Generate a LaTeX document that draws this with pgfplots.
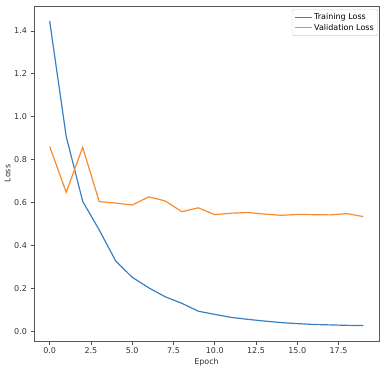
\documentclass[border=0pt]{standalone}
\usepackage{fontspec}
\setmainfont{DejaVu Sans}
\usepackage{pgfplots}
\pgfplotsset{compat=1.18}
\definecolor{tabblue}{HTML}{3A80C0}
\definecolor{taborange}{HTML}{F98B2E}

\begin{document}
\begin{tikzpicture}
\begin{axis}[
    name=ax,
    scale only axis,
    width=345pt, height=335pt,
    xmin=-0.95, xmax=19.95,
    ymin=-0.046, ymax=1.516,
    xtick={0,2.5,5,7.5,10,12.5,15,17.5},
    ytick={0,0.2,0.4,0.6,0.8,1.0,1.2,1.4},
    xticklabel style={/pgf/number format/.cd,fixed,fixed zerofill,precision=1},
    yticklabel style={/pgf/number format/.cd,fixed,fixed zerofill,precision=1},
    /pgf/number format/assume math mode=true,
    tick align=outside,
    tick pos=left,
    major tick length=3.5pt,
    every tick/.style={black!70,line width=0.6pt},
    axis line style={black!65,line width=0.8pt},
    ticklabel style={font=\fontsize{8}{9.6}\selectfont, text=black!80},
    xlabel={Epoch}, ylabel={Loss},
    label style={font=\fontsize{8}{9.6}\selectfont, text=black!80},
    xlabel style={yshift=3pt},
    ylabel style={yshift=-3pt},
    legend style={at={(0.997,0.99)}, anchor=north east, draw=black!20,
        rounded corners=1.5pt, font=\fontsize{8}{9.5}\selectfont,
        row sep=-1pt, inner sep=2pt},
    legend cell align=left,
    legend image post style={line width=1.1pt},
]
\addplot[tabblue, line width=1.2pt] coordinates {
    (0,1.445) (1,0.908) (2,0.605) (3,0.472) (4,0.327) (5,0.251)
    (6,0.202) (7,0.160) (8,0.130) (9,0.093) (10,0.078) (11,0.064)
    (12,0.055) (13,0.047) (14,0.040) (15,0.035) (16,0.031) (17,0.029)
    (18,0.027) (19,0.026)
};
\addlegendentry{Training Loss}
\addplot[taborange, line width=1.2pt] coordinates {
    (0,0.861) (1,0.647) (2,0.857) (3,0.604) (4,0.597) (5,0.588)
    (6,0.626) (7,0.607) (8,0.557) (9,0.575) (10,0.543) (11,0.550)
    (12,0.553) (13,0.546) (14,0.540) (15,0.544) (16,0.543) (17,0.542)
    (18,0.548) (19,0.534)
};
\addlegendentry{Validation Loss}
\end{axis}
\pgfresetboundingbox
\path[use as bounding box] ([xshift=-34pt,yshift=-27pt]ax.south west) rectangle ([xshift=5pt,yshift=6pt]ax.north east);
\end{tikzpicture}
\end{document}
